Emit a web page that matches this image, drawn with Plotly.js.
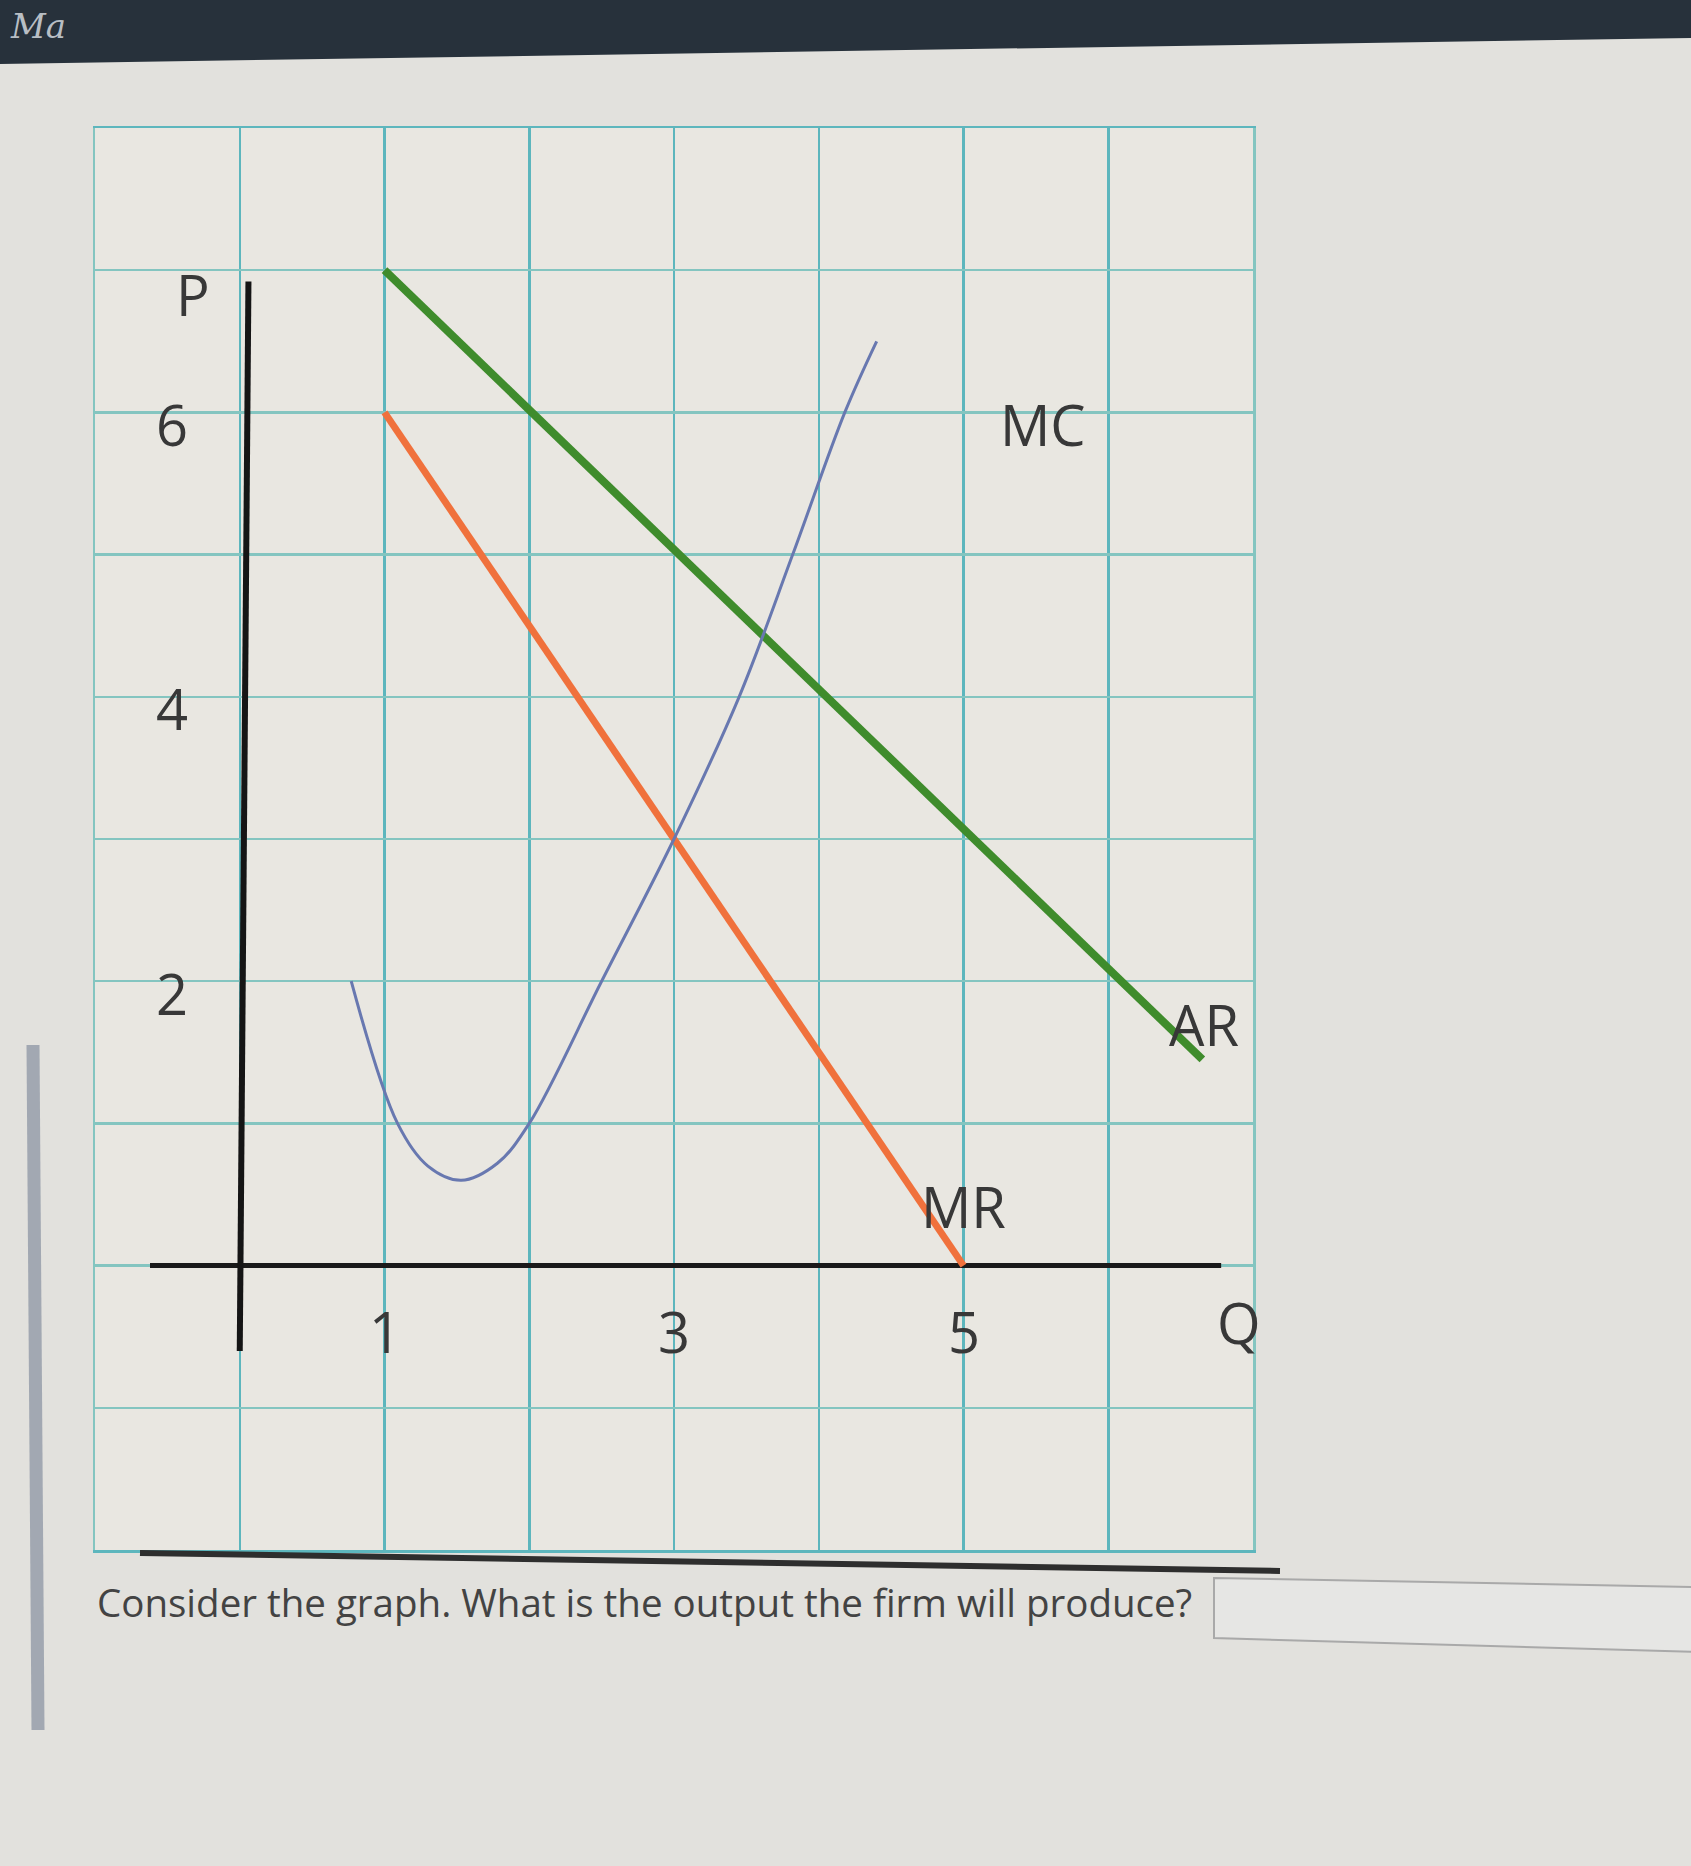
<!DOCTYPE html>
<html>
<head>
<meta charset="utf-8">
<script src="https://cdn.plot.ly/plotly-3.0.1.min.js"></script>
<style>
  html, body { margin: 0; padding: 0; background: #e2e1dd; }
  #chart { width: 1691px; height: 1866px; }
</style>
</head>
<body>
<div id="chart"></div>
<script>
// ---- data ----
const mcQ = [0.77, 1.09, 1.3, 1.53, 1.78, 2.0, 2.5, 3.0, 3.45, 3.82, 4.18, 4.4];
const mcP = [2.0, 1.0, 0.7, 0.6, 0.72, 1.0, 2.0, 3.0, 4.0, 5.0, 6.0, 6.5];
const arQ = [1, 6.65];
const arP = [7, 1.45];
const mrQ = [1, 5];
const mrP = [6, 0];
const pAxisQ = [0.06, 0];
const pAxisP = [6.92, -0.6];
const qAxisQ = [-0.62, 6.78];
const qAxisP = [0, 0];
const yTickVals = [6, 4, 2];
const yTickText = ['6', '4', '2'];
const xTickVals = [1, 3, 5];
const xTickText = ['1', '3', '5'];
const curveNames = ['MC', 'AR', 'MR'];
const axisNames = ['P', 'Q'];
const question = 'Consider the graph. What is the output the firm will produce?';

// ---- page geometry ----
const W = 1691, H = 1866;
const L = 95, R = 1253, T = 128, B = 1550;
function px(x) { return (x - L) / (R - L); }
function py(y) { return (B - y) / (B - T); }

const labelFont = { family: 'Open Sans, sans-serif', size: 56, color: '#383838' };

const traces = [
  { x: qAxisQ, y: qAxisP, mode: 'lines', line: { color: '#1a1a1a', width: 5 }, hoverinfo: 'skip' },
  { x: pAxisQ, y: pAxisP, mode: 'lines', line: { color: '#151515', width: 6 }, hoverinfo: 'skip' },
  { x: arQ, y: arP, mode: 'lines', name: 'AR', line: { color: '#3f8c2c', width: 8 } },
  { x: mrQ, y: mrP, mode: 'lines', name: 'MR', line: { color: '#f0713c', width: 7 } },
  { x: mcQ, y: mcP, mode: 'lines', name: 'MC', line: { color: '#6878b0', width: 3, shape: 'spline', smoothing: 1 } }
];

const annotations = [];
yTickVals.forEach((v, i) => annotations.push({
  x: -0.47, y: v - 0.08, xref: 'x', yref: 'y', text: yTickText[i], showarrow: false, font: labelFont
}));
xTickVals.forEach((v, i) => annotations.push({
  x: v, y: -0.46, xref: 'x', yref: 'y', text: xTickText[i], showarrow: false, font: labelFont
}));
annotations.push({ x: -0.32, y: 6.83, xref: 'x', yref: 'y', text: axisNames[0], showarrow: false, font: labelFont });
annotations.push({ x: 6.9, y: -0.4, xref: 'x', yref: 'y', text: axisNames[1], showarrow: false, font: labelFont });
annotations.push({ x: 5.55, y: 5.92, xref: 'x', yref: 'y', text: curveNames[0], showarrow: false, font: labelFont });
annotations.push({ x: 6.66, y: 1.7, xref: 'x', yref: 'y', text: curveNames[1], showarrow: false, font: labelFont });
annotations.push({ x: 5.0, y: 0.42, xref: 'x', yref: 'y', text: curveNames[2], showarrow: false, font: labelFont });
// question text
annotations.push({
  x: px(95), y: py(1602), xref: 'paper', yref: 'paper', xanchor: 'left', yanchor: 'middle',
  text: question, showarrow: false,
  font: { family: 'Open Sans, sans-serif', size: 38.5, color: '#434343' }
});
// faint handwriting remnant at the top-left of the dark bar
annotations.push({
  x: px(8), y: py(26), xref: 'paper', yref: 'paper', xanchor: 'left', yanchor: 'middle',
  text: '<i>Ma</i>', showarrow: false,
  font: { family: 'DejaVu Serif, serif', size: 34, color: '#b8bec4' }
});

function pathPx(pts) {
  return 'M ' + pts.map(p => px(p[0]) + ',' + py(p[1])).join(' L ') + ' Z';
}

const shapes = [
  // dark top bar
  { type: 'path', xref: 'paper', yref: 'paper', layer: 'below',
    path: pathPx([[0, 0], [W, 0], [W, 38], [0, 64]]), fillcolor: '#27313b', line: { width: 0 } },
  // thick rule under the graph
  { type: 'line', xref: 'paper', yref: 'paper', x0: px(140), y0: py(1553), x1: px(1280), y1: py(1571),
    line: { color: '#2e2e2e', width: 6 } },
  // answer input box
  { type: 'path', xref: 'paper', yref: 'paper',
    path: pathPx([[1214, 1578], [W + 5, 1587], [W + 5, 1652], [1214, 1638]]),
    fillcolor: '#e6e6e4', line: { color: '#a9a9a9', width: 2 } },
  // grey edge on the left
  { type: 'line', xref: 'paper', yref: 'paper', x0: px(33), y0: py(1045), x1: px(38), y1: py(1730),
    line: { color: '#a2a8b2', width: 13 } }
];

const layout = {
  width: W, height: H,
  margin: { l: L, r: W - R, t: T, b: H - B, pad: 0 },
  paper_bgcolor: '#e2e1dd',
  plot_bgcolor: '#e9e7e1',
  showlegend: false,
  xaxis: {
    range: [-1, 7], dtick: 1, tick0: 0, showticklabels: false, ticks: '',
    showgrid: true, gridcolor: '#5db6bd', gridwidth: 2.5, zeroline: false,
    showline: true, linecolor: '#5db6bd', linewidth: 2.5, mirror: true, fixedrange: true
  },
  yaxis: {
    range: [-2, 8], dtick: 1, tick0: 0, showticklabels: false, ticks: '',
    showgrid: true, gridcolor: '#84c5c0', gridwidth: 2.5, zeroline: false,
    showline: true, linecolor: '#84c5c0', linewidth: 2.5, mirror: true, fixedrange: true
  },
  annotations: annotations,
  shapes: shapes
};

Plotly.newPlot('chart', traces, layout, { displayModeBar: false, staticPlot: true });
</script>
</body>
</html>
